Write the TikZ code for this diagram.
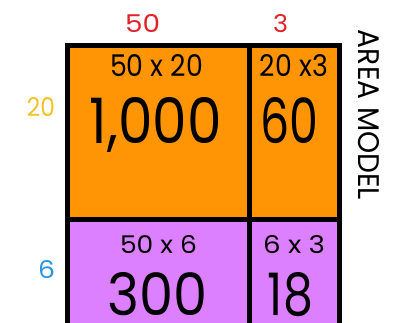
\documentclass[tikz,border=0pt]{standalone}
\usepackage{fontspec}
\usepackage{graphicx}
\setmainfont{Poppins}
\definecolor{cellorange}{RGB}{255,149,5}
\definecolor{cellpurple}{RGB}{221,128,255}
\definecolor{labred}{RGB}{225,35,40}
\definecolor{labyellow}{RGB}{240,195,40}
\definecolor{labblue}{RGB}{40,150,225}
\newcommand{\fitbox}[3]{\resizebox{#1pt}{#2pt}{#3}}
\begin{document}
\begin{tikzpicture}[x=1pt,y=-1pt,
  cell/.style={draw=black, line width=4.8pt, inner sep=0pt, outer sep=0pt},
  txt/.style={anchor=base, inner sep=0pt, outer sep=0pt, text=black}]
\useasboundingbox (0,0) rectangle (393,323);
\clip (0,0) rectangle (393,323);
\fill[white] (0,0) rectangle (393,323);
% cells
\node[cell, fill=cellorange, minimum width=182pt, minimum height=174pt] (A) at (158.5,132.5) {};
\node[cell, fill=cellorange, minimum width=90pt, minimum height=174pt] (B) at (294.5,132.5) {};
\node[cell, fill=cellpurple, minimum width=182pt, minimum height=120pt] (C) at (158.5,279.5) {};
\node[cell, fill=cellpurple, minimum width=90pt, minimum height=120pt] (D) at (294.5,279.5) {};
% outer labels
\node[txt, text=labred] (l50) at (142.5,33) {\fitbox{35}{18}{50}};
\node[txt, text=labred] (l3) at (280.5,33) {\fitbox{15}{18}{3}};
\node[txt, text=labyellow] (l20) at (41,117) {\fitbox{28}{19}{20}};
\node[txt, text=labblue] (l6) at (46.5,278) {\fitbox{17}{18}{6}};
% cell texts
\node[txt] (a1) at (156.5,77) {\fitbox{93}{22}{50 x 20}};
\node[txt] (b1) at (294,77) {\fitbox{68}{22}{20 x3}};
\node[txt] (a2) at (156,143) {\fitbox{132}{46}{1,000}};
\node[txt] (b2) at (289,143) {\fitbox{58}{46}{60}};
\node[txt] (c1) at (158.5,253) {\fitbox{77}{18}{50 x 6}};
\node[txt] (d1) at (294,253) {\fitbox{62}{18}{6 x 3}};
\node[txt] (c2) at (158,315.5) {\fitbox{100}{43}{300}};
\node[txt] (d2) at (290.5,315.5) {\fitbox{45}{43}{18}};
% side title
\node[txt, rotate=-90] (title) at (358,115) {\fitbox{170}{21}{AREA MODEL}};
\end{tikzpicture}
\end{document}
